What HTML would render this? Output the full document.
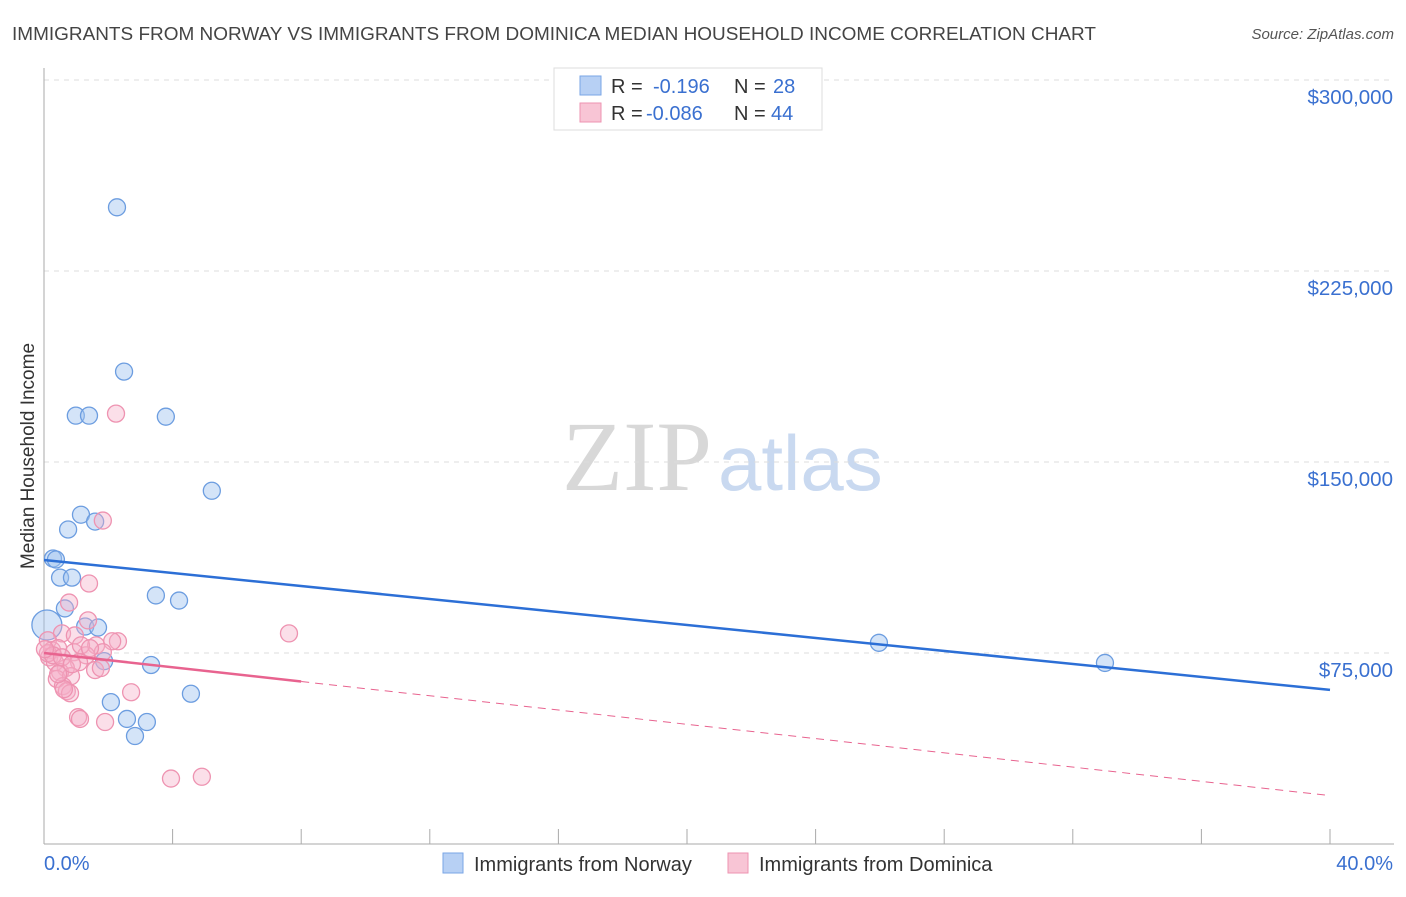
<!DOCTYPE html>
<html><head><meta charset="utf-8"><style>
body{margin:0;background:#fff;font-family:"Liberation Sans",sans-serif}
svg text{font-family:"Liberation Sans",sans-serif}
</style></head><body>
<svg id="c" width="1406" height="892">
<text x="12" y="40" font-size="18" fill="#444" textLength="1084" lengthAdjust="spacingAndGlyphs">IMMIGRANTS FROM NORWAY VS IMMIGRANTS FROM DOMINICA MEDIAN HOUSEHOLD INCOME CORRELATION CHART</text>
<text x="1394" y="39" font-size="15" fill="#555" font-style="italic" text-anchor="end">Source: ZipAtlas.com</text>
<text x="712" y="490" font-size="100" fill="#d8d8d8" text-anchor="end" style="font-family:'Liberation Serif',serif">ZIP</text>
<text x="718" y="490" font-size="78" fill="#c9d9f0">atlas</text>
<text transform="translate(34,456) rotate(-90)" font-size="19" fill="#333" text-anchor="middle">Median Household Income</text>
<g id="grid"></g><g id="marks"></g>
<g>
<rect x="554" y="68" width="268" height="62" fill="#fff" stroke="#ddd"/>
<rect x="580" y="76" width="21" height="19" fill="#b7d0f4" stroke="#7aa6e6"/>
<rect x="580" y="103" width="21" height="19" fill="#f8c5d5" stroke="#ee93b1"/>
<text y="93" font-size="20" fill="#333"><tspan x="611">R =</tspan><tspan x="653" fill="#3a70d0">-0.196</tspan><tspan x="734">N =</tspan><tspan x="773" fill="#3a70d0">28</tspan></text>
<text y="120" font-size="20" fill="#333"><tspan x="611">R =</tspan><tspan x="646" fill="#3a70d0">-0.086</tspan><tspan x="734">N =</tspan><tspan x="771" fill="#3a70d0">44</tspan></text>
</g>
<g>
<rect x="443" y="853" width="20" height="20" fill="#b7d0f4" stroke="#7aa6e6"/>
<text x="474" y="871" font-size="20" fill="#333">Immigrants from Norway</text>
<rect x="728" y="853" width="20" height="20" fill="#f8c5d5" stroke="#ee93b1"/>
<text x="759" y="871" font-size="20" fill="#333">Immigrants from Dominica</text>
</g>
</svg>
<script>
const yTicks=[75000,150000,225000,300000];
const yTickLabels=["$75,000","$150,000","$225,000","$300,000"];
const xTickLabels=["0.0%","40.0%"];
const norwayX=[2.27,2.49,0.99,1.40,3.79,5.22,1.15,1.59,0.75,0.28,0.37,0.50,0.87,0.65,3.48,4.20,1.28,1.68,0.09,3.33,1.87,2.08,2.58,3.20,2.83,4.57,25.97,33.00];
const norwayY=[250000,185500,168200,168200,167800,138700,129300,126600,123500,112100,111700,104600,104600,92500,97600,95600,85400,85000,86000,70300,71800,55700,49100,47900,42400,59000,79000,71100];
const dominicaX=[2.24,1.83,1.40,0.78,1.37,0.56,0.96,0.12,2.30,2.12,1.62,0.25,0.44,0.93,1.31,1.83,1.09,0.68,1.59,1.77,0.16,0.34,7.62,0.50,0.40,0.84,0.59,0.71,0.81,0.62,2.71,1.06,1.12,1.90,3.95,4.91,0.12,0.28,0.03,0.56,1.15,0.87,1.43,0.44];
const dominicaY=[169000,127000,102300,94800,87800,82700,81900,80000,79600,79600,78000,76100,76900,75300,74100,75300,71400,69100,68300,69100,73300,71400,82700,67500,64800,65900,62000,60000,59200,60800,59600,49800,49100,47900,25700,26400,74900,74100,76500,73300,78000,70600,76900,66700];
const norwayTrend=[111500,60500];
const dominicaTrend=[75000,19000];
const X0=44,X1=1330,Y0=844,PX=191/75000;
const xs=p=>X0+p/40*(X1-X0), ys=v=>Y0-v*PX;
const NS="http://www.w3.org/2000/svg";
function mk(t,a,parent){const e=document.createElementNS(NS,t);for(const k in a)e.setAttribute(k,a[k]);parent.appendChild(e);return e;}
const g=document.getElementById('grid'),m=document.getElementById('marks');
yTicks.forEach((v,i)=>{
 const l=mk('line',{x1:44,y1:ys(v),x2:1394,y2:ys(v),stroke:'#ddd','stroke-dasharray':'5,5'},g);
 
 
 const t=mk('text',{x:1393,y:ys(v)+24,'font-size':20.5,fill:'#3a70d0','text-anchor':'end'},g);
 t.textContent=yTickLabels[i];
 
 
});
mk('line',{x1:44,y1:68,x2:44,y2:844,stroke:'#aaa'},g);
mk('line',{x1:44,y1:844,x2:1394,y2:844,stroke:'#aaa'},g);
for(let i=1;i<=10;i++){const x=xs(i*4);mk('line',{x1:x,y1:829,x2:x,y2:844,stroke:'#aaa'},g);}
[[0,'start',44],[1,'end',1393]].forEach(([i,a,x])=>{const t=mk('text',{x:x,y:870,'font-size':20,fill:'#3a70d0','text-anchor':a},g);t.textContent=xTickLabels[i];
 
 });
norwayX.forEach((x,i)=>{const c=mk('circle',{cx:xs(x),cy:ys(norwayY[i]),r:i==18?15:8.5,fill:'rgba(160,195,240,0.45)',stroke:'#6c9de0','stroke-width':1.3},m);
 
 });
dominicaX.forEach((x,i)=>{const c=mk('circle',{cx:xs(x),cy:ys(dominicaY[i]),r:8.5,fill:'rgba(245,175,200,0.4)',stroke:'#ee93b1','stroke-width':1.3},m);
 
 });
const bt=mk('line',{x1:xs(0),y1:ys(norwayTrend[0]),x2:xs(40),y2:ys(norwayTrend[1]),stroke:'#2c6fd6','stroke-width':2.5},m);


const f=v=>dominicaTrend[0]+(dominicaTrend[1]-dominicaTrend[0])*v/40;
const pt=mk('line',{x1:xs(0),y1:ys(f(0)),x2:xs(8),y2:ys(f(8)),stroke:'#e8638f','stroke-width':2.5},m);


const pd=mk('line',{x1:xs(8),y1:ys(f(8)),x2:xs(40),y2:ys(f(40)),stroke:'#e8638f','stroke-width':1,'stroke-dasharray':'8,6'},m);


</script>
</body></html>
